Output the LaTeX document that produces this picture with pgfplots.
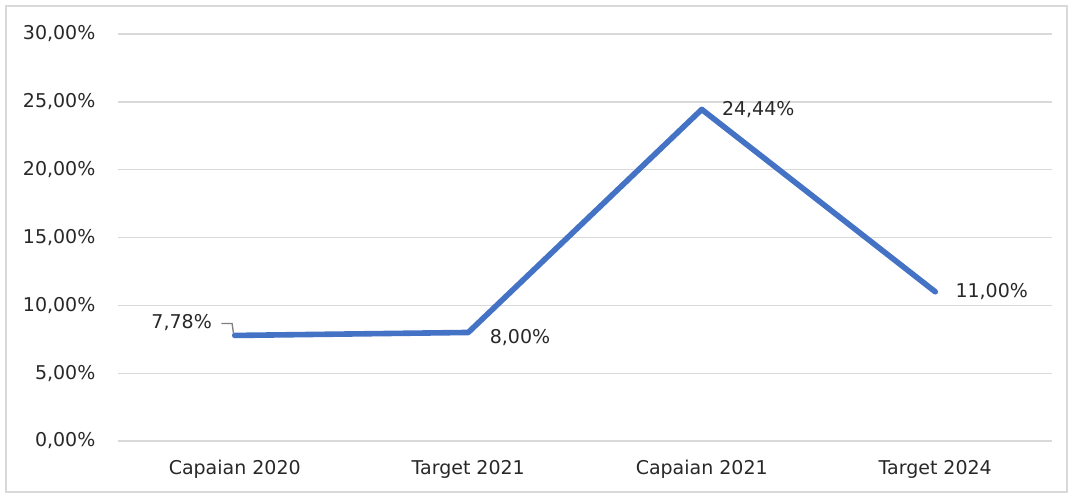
\documentclass[border=0pt]{standalone}
\usepackage{pgfplots}
\pgfplotsset{compat=1.18}
\usepackage{fontspec}
\setmainfont{DejaVu Sans}
\definecolor{lineblue}{RGB}{68,114,196}
\definecolor{gridgray}{RGB}{217,217,217}
\definecolor{txt}{RGB}{40,40,40}
\begin{document}
\begin{tikzpicture}[x=1pt,y=1pt]
\fontsize{14.25}{17}\selectfont
\path[use as bounding box] (-88.5pt,-41.25pt) rectangle (716.25pt,330.75pt);
\draw[gridgray,line width=1.5pt] (-84pt,-38.25pt) rectangle (711.75pt,326.25pt);
\begin{axis}[
  at={(0pt,0pt)}, anchor=south west,
  width=700.5pt, height=305.25pt, scale only axis,
  xmin=-0.5, xmax=3.5, ymin=0, ymax=30,
  axis line style={draw=none},
  ytick={0,5,10,15,20,25,30},
  yticklabels={{0,00\%},{5,00\%},{10,00\%},{15,00\%},{20,00\%},{25,00\%},{30,00\%}},
  xtick={0,1,2,3},
  xticklabels={Capaian 2020,Target 2021,Capaian 2021,Target 2024},
  ymajorgrids, major grid style={gridgray,line width=1pt},
  major tick length=0pt,
  tick style={draw=none},
  tick label style={font=\fontsize{14.25}{17}\selectfont, text=txt},
  yticklabel style={anchor=east, xshift=-12pt},
  xticklabel style={anchor=center, yshift=-21.5pt},
  clip=false,
]
\addplot[lineblue, line width=4.2pt, line join=round, line cap=round] coordinates {(0,7.78) (1,8.00) (2,24.44) (3,11.00)};
\draw[gray, line width=1pt] ([xshift=-10pt,yshift=9pt]axis cs:0,7.78) -- ([xshift=-2pt,yshift=9pt]axis cs:0,7.78) -- ([xshift=-1pt,yshift=2pt]axis cs:0,7.78);
\node[anchor=east, text=txt, inner sep=0pt] at ([xshift=-17pt,yshift=10pt]axis cs:0,7.78) {7,78\%};
\node[anchor=west, text=txt, inner sep=0pt] at ([xshift=16pt,yshift=-4pt]axis cs:1,8.00) {8,00\%};
\node[anchor=west, text=txt, inner sep=0pt] at ([xshift=15pt,yshift=0pt]axis cs:2,24.44) {24,44\%};
\node[anchor=west, text=txt, inner sep=0pt] at ([xshift=15pt,yshift=0pt]axis cs:3,11.00) {11,00\%};
\end{axis}
\end{tikzpicture}
\end{document}
